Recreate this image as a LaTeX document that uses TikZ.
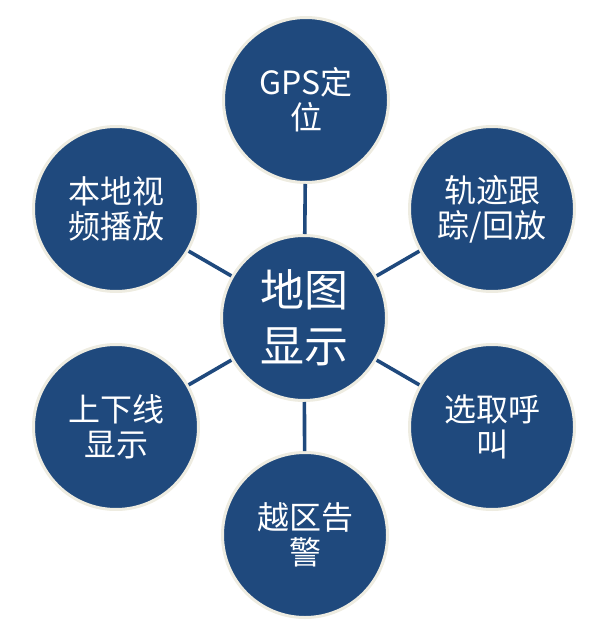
\documentclass[tikz,border=0pt]{standalone}
\usepackage{fontspec}
\newfontfamily\cjk{Noto Sans CJK SC}
\definecolor{navy}{HTML}{1F497D}
\definecolor{rim}{HTML}{EEECE1}
\begin{document}
\begin{tikzpicture}[x=1pt,y=-1pt,
  bubble/.style={circle,fill=navy,draw=rim,line width=3pt,minimum size=165pt,inner sep=0pt,
    text=white,align=center,font=\cjk\fontsize{32}{35}\selectfont},
  hub/.style={bubble,font=\cjk\fontsize{44}{56}\selectfont},
  link/.style={draw=navy,line width=3.6pt}]
\useasboundingbox (0,0) rectangle (609,628);
\node[hub] (c) at (304,318) {地图\\显示};
\node[bubble] (t) at (306,100) {GPS定\\位};
\node[bubble] (ur) at (492,209) {轨迹跟\\踪/回放};
\node[bubble] (lr) at (492,427) {选取呼\\叫};
\node[bubble] (b) at (305,535) {越区告\\警};
\node[bubble] (ll) at (116,427) {上下线\\显示};
\node[bubble] (ul) at (116,209) {本地视\\频播放};
\foreach \n in {t,ur,lr,b,ll,ul} \draw[link] (c) -- (\n);
\end{tikzpicture}
\end{document}
